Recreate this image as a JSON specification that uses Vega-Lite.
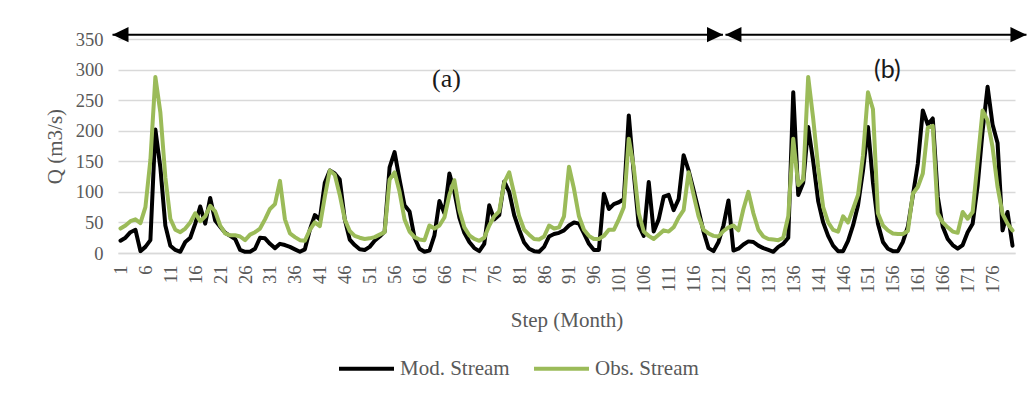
{
  "$schema": "https://vega.github.io/schema/vega-lite/v6.json",
  "width": 897,
  "height": 214,
  "autosize": {"type": "none"},
  "padding": {"left": 118, "top": 39, "right": 17, "bottom": 159},
  "background": "white",
  "config": {"view": {"stroke": null}, "font": "Liberation Serif", "axis": {"labelOverlap": false, "labelSeparation": 0}},
  "datasets": {
    "flow": [
      {"month":1,"mod":20,"obs":40},{"month":2,"mod":25,"obs":45},{"month":3,"mod":34,"obs":52},{"month":4,"mod":38,"obs":55},{"month":5,"mod":3,"obs":49},
      {"month":6,"mod":10,"obs":75},{"month":7,"mod":21,"obs":152},{"month":8,"mod":202,"obs":288},{"month":9,"mod":140,"obs":230},{"month":10,"mod":45,"obs":124},
      {"month":11,"mod":12,"obs":56},{"month":12,"mod":5,"obs":38},{"month":13,"mod":2,"obs":34},{"month":14,"mod":18,"obs":40},{"month":15,"mod":25,"obs":50},
      {"month":16,"mod":48,"obs":65},{"month":17,"mod":76,"obs":52},{"month":18,"mod":48,"obs":60},{"month":19,"mod":90,"obs":77},{"month":20,"mod":53,"obs":68},
      {"month":21,"mod":43,"obs":45},{"month":22,"mod":33,"obs":32},{"month":23,"mod":28,"obs":29},{"month":24,"mod":23,"obs":29},{"month":25,"mod":5,"obs":27},
      {"month":26,"mod":2,"obs":21},{"month":27,"mod":2,"obs":30},{"month":28,"mod":7,"obs":34},{"month":29,"mod":25,"obs":40},{"month":30,"mod":24,"obs":55},
      {"month":31,"mod":15,"obs":72},{"month":32,"mod":8,"obs":80},{"month":33,"mod":15,"obs":118},{"month":34,"mod":13,"obs":55},{"month":35,"mod":10,"obs":32},
      {"month":36,"mod":6,"obs":26},{"month":37,"mod":2,"obs":21},{"month":38,"mod":6,"obs":20},{"month":39,"mod":38,"obs":38},{"month":40,"mod":62,"obs":50},
      {"month":41,"mod":55,"obs":44},{"month":42,"mod":115,"obs":92},{"month":43,"mod":135,"obs":135},{"month":44,"mod":130,"obs":128},{"month":45,"mod":120,"obs":95},
      {"month":46,"mod":55,"obs":55},{"month":47,"mod":22,"obs":36},{"month":48,"mod":13,"obs":28},{"month":49,"mod":6,"obs":25},{"month":50,"mod":5,"obs":23},
      {"month":51,"mod":10,"obs":24},{"month":52,"mod":20,"obs":26},{"month":53,"mod":27,"obs":30},{"month":54,"mod":35,"obs":34},{"month":55,"mod":140,"obs":120},
      {"month":56,"mod":165,"obs":132},{"month":57,"mod":120,"obs":100},{"month":58,"mod":78,"obs":55},{"month":59,"mod":68,"obs":35},{"month":60,"mod":25,"obs":26},
      {"month":61,"mod":7,"obs":22},{"month":62,"mod":2,"obs":21},{"month":63,"mod":4,"obs":45},{"month":64,"mod":29,"obs":40},{"month":65,"mod":85,"obs":45},
      {"month":66,"mod":65,"obs":58},{"month":67,"mod":130,"obs":95},{"month":68,"mod":100,"obs":119},{"month":69,"mod":58,"obs":70},{"month":70,"mod":33,"obs":42},
      {"month":71,"mod":18,"obs":29},{"month":72,"mod":8,"obs":23},{"month":73,"mod":3,"obs":20},{"month":74,"mod":15,"obs":25},{"month":75,"mod":78,"obs":45},
      {"month":76,"mod":55,"obs":60},{"month":77,"mod":62,"obs":68},{"month":78,"mod":117,"obs":115},{"month":79,"mod":100,"obs":132},{"month":80,"mod":62,"obs":97},
      {"month":81,"mod":38,"obs":60},{"month":82,"mod":17,"obs":38},{"month":83,"mod":7,"obs":30},{"month":84,"mod":3,"obs":23},{"month":85,"mod":2,"obs":22},
      {"month":86,"mod":10,"obs":27},{"month":87,"mod":27,"obs":45},{"month":88,"mod":31,"obs":40},{"month":89,"mod":33,"obs":42},{"month":90,"mod":37,"obs":60},
      {"month":91,"mod":45,"obs":141},{"month":92,"mod":50,"obs":105},{"month":93,"mod":48,"obs":60},{"month":94,"mod":32,"obs":38},{"month":95,"mod":15,"obs":28},
      {"month":96,"mod":5,"obs":23},{"month":97,"mod":5,"obs":23},{"month":98,"mod":97,"obs":28},{"month":99,"mod":72,"obs":38},{"month":100,"mod":80,"obs":38},
      {"month":101,"mod":83,"obs":55},{"month":102,"mod":88,"obs":75},{"month":103,"mod":225,"obs":187},{"month":104,"mod":130,"obs":140},{"month":105,"mod":45,"obs":65},
      {"month":106,"mod":28,"obs":35},{"month":107,"mod":116,"obs":28},{"month":108,"mod":35,"obs":23},{"month":109,"mod":55,"obs":30},{"month":110,"mod":92,"obs":37},
      {"month":111,"mod":95,"obs":35},{"month":112,"mod":70,"obs":42},{"month":113,"mod":88,"obs":58},{"month":114,"mod":160,"obs":70},{"month":115,"mod":135,"obs":132},
      {"month":116,"mod":103,"obs":95},{"month":117,"mod":70,"obs":60},{"month":118,"mod":35,"obs":38},{"month":119,"mod":8,"obs":32},{"month":120,"mod":3,"obs":28},
      {"month":121,"mod":18,"obs":27},{"month":122,"mod":45,"obs":36},{"month":123,"mod":86,"obs":42},{"month":124,"mod":4,"obs":45},{"month":125,"mod":7,"obs":37},
      {"month":126,"mod":14,"obs":72},{"month":127,"mod":19,"obs":100},{"month":128,"mod":18,"obs":65},{"month":129,"mod":12,"obs":38},{"month":130,"mod":8,"obs":27},
      {"month":131,"mod":5,"obs":23},{"month":132,"mod":2,"obs":22},{"month":133,"mod":10,"obs":21},{"month":134,"mod":15,"obs":25},{"month":135,"mod":25,"obs":60},
      {"month":136,"mod":263,"obs":187},{"month":137,"mod":95,"obs":111},{"month":138,"mod":115,"obs":120},{"month":139,"mod":206,"obs":288},{"month":140,"mod":150,"obs":220},
      {"month":141,"mod":85,"obs":140},{"month":142,"mod":50,"obs":75},{"month":143,"mod":28,"obs":50},{"month":144,"mod":12,"obs":38},{"month":145,"mod":3,"obs":35},
      {"month":146,"mod":3,"obs":60},{"month":147,"mod":20,"obs":50},{"month":148,"mod":45,"obs":72},{"month":149,"mod":78,"obs":95},{"month":150,"mod":135,"obs":160},
      {"month":151,"mod":206,"obs":263},{"month":152,"mod":115,"obs":235},{"month":153,"mod":48,"obs":65},{"month":154,"mod":18,"obs":45},{"month":155,"mod":7,"obs":37},
      {"month":156,"mod":3,"obs":32},{"month":157,"mod":3,"obs":31},{"month":158,"mod":18,"obs":31},{"month":159,"mod":43,"obs":36},{"month":160,"mod":94,"obs":97},
      {"month":161,"mod":146,"obs":108},{"month":162,"mod":233,"obs":130},{"month":163,"mod":210,"obs":205},{"month":164,"mod":220,"obs":208},{"month":165,"mod":92,"obs":65},
      {"month":166,"mod":43,"obs":50},{"month":167,"mod":23,"obs":42},{"month":168,"mod":13,"obs":35},{"month":169,"mod":7,"obs":33},{"month":170,"mod":13,"obs":67},
      {"month":171,"mod":34,"obs":56},{"month":172,"mod":48,"obs":67},{"month":173,"mod":110,"obs":150},{"month":174,"mod":200,"obs":233},{"month":175,"mod":272,"obs":217},
      {"month":176,"mod":210,"obs":173},{"month":177,"mod":180,"obs":108},{"month":178,"mod":37,"obs":64},{"month":179,"mod":67,"obs":48},{"month":180,"mod":12,"obs":37}
    ],
    "arrows": [
      {"from": -0.6, "to": 121.9, "q": 357},
      {"from": 122.4, "to": 182.8, "q": 357}
    ],
    "heads": [
      {"month": -0.6, "q": 357, "dir": "left"},
      {"month": 121.9, "q": 357, "dir": "right"},
      {"month": 122.4, "q": 357, "dir": "left"},
      {"month": 182.8, "q": 357, "dir": "right"}
    ],
    "labelA": [{"month": 66.4, "q": 284, "text": "(a)"}],
    "labelB": [{"month": 154.9, "q": 299, "text": "(b)"}]
  },
  "layer": [
    {
      "data": {"name": "flow"},
      "transform": [{"fold": ["mod", "obs"], "as": ["series", "q"]}],
      "mark": {"type": "line", "strokeWidth": 4, "strokeJoin": "round", "strokeCap": "round"},
      "encoding": {
        "x": {
          "field": "month", "type": "quantitative",
          "scale": {"domain": [0.5, 180.5], "nice": false, "zero": false},
          "axis": {
            "values": [1,6,11,16,21,26,31,36,41,46,51,56,61,66,71,76,81,86,91,96,101,106,111,116,121,126,131,136,141,146,151,156,161,166,171,176],
            "tickCount": 100,
            "labelAngle": 270, "labelFontSize": 18.5, "labelColor": "#595959", "labelFont": "Liberation Serif",
            "labelFlush": false, "labelOverlap": false, "labelPadding": 12,
            "ticks": false, "tickSize": 0, "grid": false,
            "domainColor": "#d9d9d9", "domainWidth": 1.5,
            "title": "Step (Month)", "titleFont": "Liberation Serif", "titleFontSize": 21, "titleFontWeight": "normal",
            "titleColor": "#595959", "titleY": 67, "titleBaseline": "middle"
          }
        },
        "y": {
          "field": "q", "type": "quantitative",
          "scale": {"domain": [0, 350], "nice": false},
          "axis": {
            "values": [0,50,100,150,200,250,300,350],
            "tickCount": 20,
            "labelFontSize": 18.5, "labelColor": "#595959", "labelFont": "Liberation Serif", "labelPadding": 15,
            "labelOverlap": false, "labelFlush": false,
            "ticks": false, "tickSize": 0, "domain": false,
            "grid": true, "gridColor": "#d9d9d9", "gridWidth": 1.5,
            "title": "Q (m3/s)", "titleFont": "Liberation Serif", "titleFontSize": 21, "titleFontWeight": "normal",
            "titleColor": "#595959", "titleX": -63, "titleY": 107, "titleAngle": 270,
            "titleBaseline": "middle", "titleAlign": "center"
          }
        },
        "color": {
          "field": "series", "type": "nominal",
          "scale": {"domain": ["mod", "obs"], "range": ["#000000", "#9BBB59"]},
          "legend": {
            "orient": "none", "legendX": 219, "legendY": 300, "direction": "horizontal",
            "title": null, "padding": 0,
            "labelExpr": "datum.value == 'mod' ? 'Mod. Stream' : 'Obs. Stream'",
            "symbolType": "stroke", "symbolSize": 3025, "symbolStrokeWidth": 4,
            "labelFont": "Liberation Serif", "labelFontSize": 21, "labelColor": "#595959",
            "labelOffset": 4, "columnPadding": 16
          }
        }
      }
    },
    {
      "data": {"name": "arrows"},
      "mark": {"type": "rule", "color": "#000000", "strokeWidth": 2},
      "encoding": {
        "x": {"field": "from", "type": "quantitative", "scale": {"domain": [0.5, 180.5], "nice": false, "zero": false}},
        "x2": {"field": "to"},
        "y": {"field": "q", "type": "quantitative", "scale": {"domain": [0, 350], "nice": false}}
      }
    },
    {
      "data": {"name": "heads"},
      "mark": {"type": "point", "filled": true, "color": "#000000", "opacity": 1, "size": 256, "strokeWidth": 0},
      "encoding": {
        "x": {"field": "month", "type": "quantitative", "scale": {"domain": [0.5, 180.5], "nice": false, "zero": false}},
        "y": {"field": "q", "type": "quantitative", "scale": {"domain": [0, 350], "nice": false}},
        "shape": {
          "field": "dir", "type": "nominal",
          "scale": {"domain": ["left", "right"], "range": ["M0,0L2,-0.95L2,0.95Z", "M0,0L-2,-0.95L-2,0.95Z"]},
          "legend": null
        }
      }
    },
    {
      "data": {"name": "labelA"},
      "mark": {"type": "text", "font": "Liberation Serif", "fontSize": 26, "color": "#1a1a1a", "align": "center", "baseline": "middle"},
      "encoding": {
        "x": {"field": "month", "type": "quantitative", "scale": {"domain": [0.5, 180.5], "nice": false, "zero": false}},
        "y": {"field": "q", "type": "quantitative", "scale": {"domain": [0, 350], "nice": false}},
        "text": {"field": "text"}
      }
    },
    {
      "data": {"name": "labelB"},
      "mark": {"type": "text", "font": "Lato", "fontSize": 25, "color": "#1a1a1a", "align": "center", "baseline": "middle"},
      "encoding": {
        "x": {"field": "month", "type": "quantitative", "scale": {"domain": [0.5, 180.5], "nice": false, "zero": false}},
        "y": {"field": "q", "type": "quantitative", "scale": {"domain": [0, 350], "nice": false}},
        "text": {"field": "text"}
      }
    }
  ]
}
